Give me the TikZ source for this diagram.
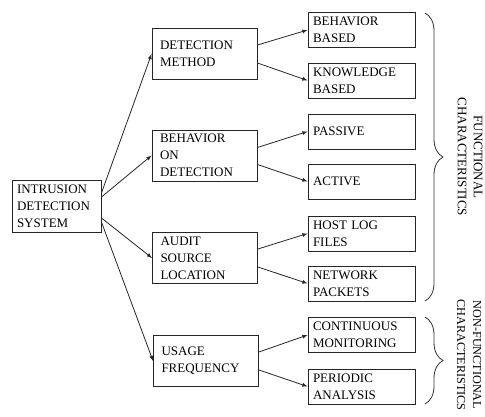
\documentclass[tikz,border=0pt]{standalone}
\usepackage{fontspec}
\setmainfont{Liberation Serif}
\usetikzlibrary{arrows,decorations.pathreplacing}

\begin{document}
\begin{tikzpicture}[>=latex, x=1pt, y=-1pt,
	box/.style={draw=black!85, line width=0.9pt, align=left, inner ysep=2pt,
		font=\fontsize{13}{17}\selectfont},
	rootbox/.style={box, inner xsep=5pt, text width=79pt, minimum height=52pt},
	midbox/.style={box, inner xsep=8pt, text width=89pt, minimum height=51pt},
	leafbox/.style={box, inner xsep=5pt, text width=97pt, minimum height=35pt},
	link/.style={->, line width=0.8pt, black!85},
	curly/.style={decorate, line width=0.8pt, black!80}]
	\useasboundingbox (0,0) rectangle (485,417);
	%Sistema
	\node [rootbox] (ids) at (56.5,206) {INTRUSION\\DETECTION\\SYSTEM};
	%Caratteristiche
	\node [midbox] (dm) at (204.5,54) {DETECTION\\METHOD};
	\node [midbox] (bod) at (204.5,155.5) {BEHAVIOR\\ON\\DETECTION};
	\node [midbox] (asl) at (205,258) {AUDIT\\SOURCE\\LOCATION};
	\node [midbox] (uf) at (206,361) {USAGE\\FREQUENCY};
	%Foglie
	\node [leafbox] (bb) at (361.5,30) {BEHAVIOR\\BASED};
	\node [leafbox] (kb) at (361.5,80.5) {KNOWLEDGE\\BASED};
	\node [leafbox] (pas) at (361.5,131.5) {PASSIVE};
	\node [leafbox] (act) at (361.5,181.5) {ACTIVE};
	\node [leafbox] (hlf) at (361.5,233.5) {HOST LOG\\FILES};
	\node [leafbox] (np) at (361.5,283.5) {NETWORK\\PACKETS};
	\node [leafbox] (cm) at (361.5,335) {CONTINUOUS\\MONITORING};
	\node [leafbox] (pa) at (361.5,386.5) {PERIODIC\\ANALYSIS};
	%Collegamenti
	\draw [link] ([yshift=13pt]ids.east) -- (dm.west);
	\draw [link] ([yshift=9pt]ids.east) -- (bod.west);
	\draw [link] ([yshift=-12pt]ids.east) -- (asl.west);
	\draw [link] ([yshift=-16pt]ids.east) -- (uf.west);
	\draw [link] ([yshift=9pt]dm.east) -- (bb.west);
	\draw [link] ([yshift=-9pt]dm.east) -- (kb.west);
	\draw [link] ([yshift=8pt]bod.east) -- (pas.west);
	\draw [link] ([yshift=-9pt]bod.east) -- (act.west);
	\draw [link] ([yshift=9pt]asl.east) -- (hlf.west);
	\draw [link] ([yshift=-9pt]asl.east) -- (np.west);
	\draw [link] ([yshift=9pt]uf.east) -- (cm.west);
	\draw [link] ([yshift=-9pt]uf.east) -- (pa.west);
	%Graffe
	\draw [curly, decoration={brace, amplitude=18pt}] (425,13) -- (425,301);
	\draw [curly, decoration={brace, amplitude=18pt}] (425,317) -- (425,404);
	\node [rotate=-90, align=center, font=\fontsize{13}{16}\selectfont] (fun) at (470,157) {FUNCTIONAL\\CHARACTERISTICS};
	\node [rotate=-90, align=center, inner sep=1pt, font=\fontsize{12.2}{16}\selectfont] (nonfun) at (469,355) {NON-FUNCTIONAL\\CHARACTERISTICS};
\end{tikzpicture}
\end{document}
